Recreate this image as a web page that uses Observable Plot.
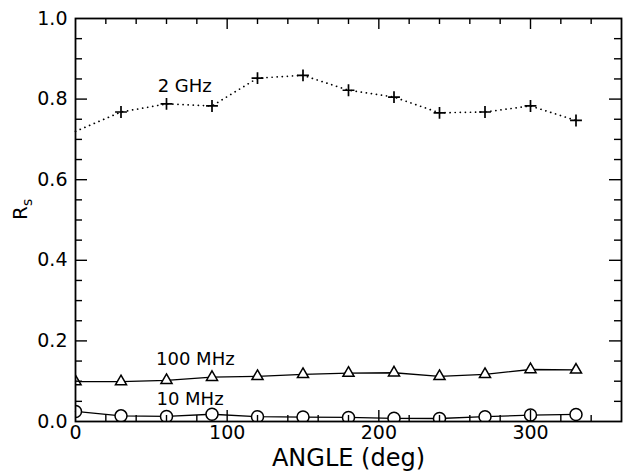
<!DOCTYPE html>
<html><head><meta charset="utf-8">
<script src="https://cdn.jsdelivr.net/npm/d3@7"></script>
<script src="https://cdn.jsdelivr.net/npm/@observablehq/plot@0.6"></script>
<style>body{margin:0;background:#fff}</style>
</head><body><div id="chart"></div>
<script>
const angles = [0, 30, 60, 90, 120, 150, 180, 210, 240, 270, 300, 330];
const rs2GHz = [0.72, 0.768, 0.788, 0.783, 0.852, 0.859, 0.822, 0.805, 0.766, 0.768, 0.783, 0.747];
const rs100MHz = [0.099, 0.099, 0.102, 0.110, 0.112, 0.117, 0.120, 0.121, 0.112, 0.117, 0.129, 0.128];
const rs10MHz = [0.025, 0.014, 0.0125, 0.018, 0.012, 0.011, 0.010, 0.008, 0.0075, 0.012, 0.016, 0.0175];

const xTickLabels = [0, 100, 200, 300];
const yTickLabels = [0, 0.2, 0.4, 0.6, 0.8, 1.0];
const xMinorTicks = [20, 40, 60, 80, 120, 140, 160, 180, 220, 240, 260, 280, 320, 340];
const xMajorTicks = [100, 200, 300];
const yMinorTicks = [0.05, 0.1, 0.15, 0.25, 0.3, 0.35, 0.45, 0.5, 0.55, 0.65, 0.7, 0.75, 0.85, 0.9, 0.95];
const yMajorTicks = [0.2, 0.4, 0.6, 0.8];

const seriesNames = ["2 GHz", "100 MHz", "10 MHz"];
const labelAngles = [72, 79, 75.5];
const labelRs = [0.832, 0.154, 0.055];

const xTitle = "ANGLE (deg)";
const yTitle = "R";
const yTitleSub = "s";

const toRows = (vals) => angles.map((a, i) => ({angle: a, rs: vals[i]}));
const rows2 = toRows(rs2GHz);
const rows100 = toRows(rs100MHz);
const rows10 = toRows(rs10MHz);
const labelRows = seriesNames.map((t, i) => ({text: t, angle: labelAngles[i], rs: labelRs[i]}));

const W = 623, H = 471, mL = 75, mR = 2, mT = 18, mB = 50;
const plotW = W - mL - mR, plotH = H - mT - mB;
const tk = {stroke: "black", strokeWidth: 1.4};
const xTick = (ticks, len, side) => Plot.ruleX(ticks, {...tk, x: d => d,
  ...(side === "bottom" ? {insetTop: plotH - len} : {insetBottom: plotH - len})});
const yTick = (ticks, len, side) => Plot.ruleY(ticks, {...tk, y: d => d,
  ...(side === "left" ? {insetRight: plotW - len} : {insetLeft: plotW - len})});

const chart = Plot.plot({
  width: W,
  height: H,
  marginLeft: mL,
  marginRight: mR,
  marginTop: mT,
  marginBottom: mB,
  style: {fontFamily: "DejaVu Sans", background: "white"},
  x: {domain: [0, 360]},
  y: {domain: [0, 1]},
  marks: [
    Plot.axisX(xTickLabels, {anchor: "bottom", tickSize: 0, tickPadding: 4, fontSize: 19, label: null}),
    Plot.axisY(yTickLabels, {anchor: "left", tickSize: 0, tickPadding: 8, fontSize: 19, label: null, tickFormat: d3.format(".1f")}),
    Plot.text([xTitle], {text: d => d, frameAnchor: "bottom", dy: 27, lineAnchor: "top", fontSize: 24}),
    Plot.text([yTitle], {text: d => d, frameAnchor: "left", dx: -63, rotate: -90, lineAnchor: "top", fontSize: 20}),
    Plot.line(rows2, {x: "angle", y: "rs", stroke: "black", strokeWidth: 1.7, strokeDasharray: "0.1,5", strokeLinecap: "round"}),
    Plot.line(rows100, {x: "angle", y: "rs", stroke: "black", strokeWidth: 1.3}),
    Plot.line(rows10, {x: "angle", y: "rs", stroke: "black", strokeWidth: 1.3}),
    Plot.dot(rows2, {filter: d => d.angle > 0, x: "angle", y: "rs", symbol: "plus", r: 3.9, stroke: "black", strokeWidth: 1.7, clip: true}),
    Plot.dot(rows100, {x: "angle", y: "rs", symbol: "triangle2", r: 5.3, fill: "white", stroke: "black", strokeWidth: 1.5, clip: true}),
    Plot.dot(rows10, {x: "angle", y: "rs", symbol: "circle", r: 6, fill: "white", stroke: "black", strokeWidth: 1.5, clip: true}),
    Plot.text(labelRows, {x: "angle", y: "rs", text: "text", fontSize: 18}),
    Plot.frame({stroke: "black", strokeWidth: 1.8}),
    xTick(xMinorTicks, 6, "bottom"), xTick(xMajorTicks, 11, "bottom"),
    xTick(xMinorTicks, 6, "top"), xTick(xMajorTicks, 11, "top"),
    yTick(yMinorTicks, 7, "left"), yTick(yMajorTicks, 12, "left"),
    yTick(yMinorTicks, 7, "right"), yTick(yMajorTicks, 12, "right")
  ]
});

const yt = Array.from(chart.querySelectorAll("text")).find(t => t.textContent === yTitle);
if (yt) {
  yt.textContent = yTitle;
  const sub = document.createElementNS("http://www.w3.org/2000/svg", "tspan");
  sub.setAttribute("font-size", "14");
  sub.setAttribute("dy", "5");
  sub.textContent = yTitleSub;
  yt.appendChild(sub);
}
document.getElementById("chart").appendChild(chart);
</script>
</body></html>
